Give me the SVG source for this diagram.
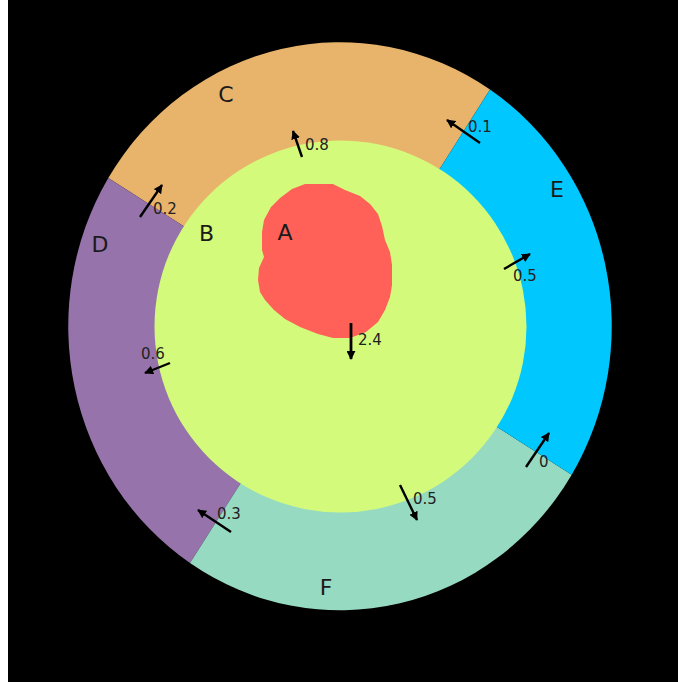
<svg xmlns="http://www.w3.org/2000/svg" width="678" height="682" viewBox="0 0 678 682">
<defs>
<style>
.lbl{font-family:"DejaVu Sans","Liberation Sans",sans-serif;font-size:22px;fill:#1a1a1a;text-anchor:middle}
.num{font-family:"DejaVu Sans","Liberation Sans",sans-serif;font-size:15px;fill:#222}
.arr{stroke:#000;stroke-width:2.4;fill:none;marker-end:url(#ah)}
</style>
<marker id="ah" viewBox="0 0 10 10" refX="9" refY="5" markerWidth="9" markerHeight="9" markerUnits="userSpaceOnUse" orient="auto">
<path d="M0,0 L10,5 L0,10 z" fill="#000"/>
</marker>
</defs>
<rect x="0" y="0" width="678" height="682" fill="#fff"/>
<rect x="8" y="0" width="670" height="682" fill="#000"/>
<g id="C"><path d="M340,326.3 L490,89.5 A271.7,284 0 0 0 108.3,177.9 Z" fill="#e8b36a"/></g>
<g id="D"><path d="M340,326.3 L108.3,177.9 A271.7,284 0 0 0 190,563.1 Z" fill="#9673aa"/></g>
<g id="F"><path d="M340,326.3 L190,563.1 A271.7,284 0 0 0 571.7,474.7 Z" fill="#96dbc1"/></g>
<g id="E"><path d="M340,326.3 L571.7,474.7 A271.7,284 0 0 0 490,89.5 Z" fill="#00c8ff"/></g>
<g id="B"><circle cx="340.5" cy="326.5" r="186" fill="#d4fa7c"/></g>
<g id="A"><path d="M305,184 L333,184 L345,190 L360,196 L370,204 L378,214 L382,226 L385,240 L390,252 L392,265 L392,285 L390,297 L385,310 L378,322 L366,332 L350,338 L333,338 L318,334 L300,327 L285,319 L274,310 L265,300 L260,292 L258,280 L259,268 L264,257 L262,250 L262,232 L264,220 L271,207 L280,198 L292,189 Z" fill="#ff6058"/></g>
<g id="labels">
<text class="lbl" x="285" y="240">A</text>
<text class="lbl" x="206.5" y="241">B</text>
<text class="lbl" x="226" y="102">C</text>
<text class="lbl" x="100" y="252">D</text>
<text class="lbl" x="557" y="197">E</text>
<text class="lbl" x="326" y="595">F</text>
</g>
<g id="connectors">
<line class="arr" x1="302" y1="157" x2="293" y2="131"/>
<line class="arr" x1="140" y1="217" x2="162" y2="185"/>
<line class="arr" x1="480" y1="143" x2="447" y2="120"/>
<line class="arr" x1="504" y1="269" x2="530" y2="254"/>
<line class="arr" x1="170" y1="363" x2="145" y2="373"/>
<line class="arr" x1="231" y1="532" x2="198" y2="510"/>
<line class="arr" x1="351" y1="323" x2="351" y2="359" style="stroke-width:2.8"/>
<line class="arr" x1="526" y1="467" x2="549" y2="433"/>
<line class="arr" x1="400" y1="485" x2="417" y2="520"/>
</g>
<g id="values">
<text class="num" x="305" y="150">0.8</text>
<text class="num" x="153" y="214">0.2</text>
<text class="num" x="468" y="132">0.1</text>
<text class="num" x="513" y="281">0.5</text>
<text class="num" x="141" y="359">0.6</text>
<text class="num" x="217" y="519">0.3</text>
<text class="num" x="358" y="345">2.4</text>
<text class="num" x="539" y="467">0</text>
<text class="num" x="413" y="504">0.5</text>
</g>
</svg>
